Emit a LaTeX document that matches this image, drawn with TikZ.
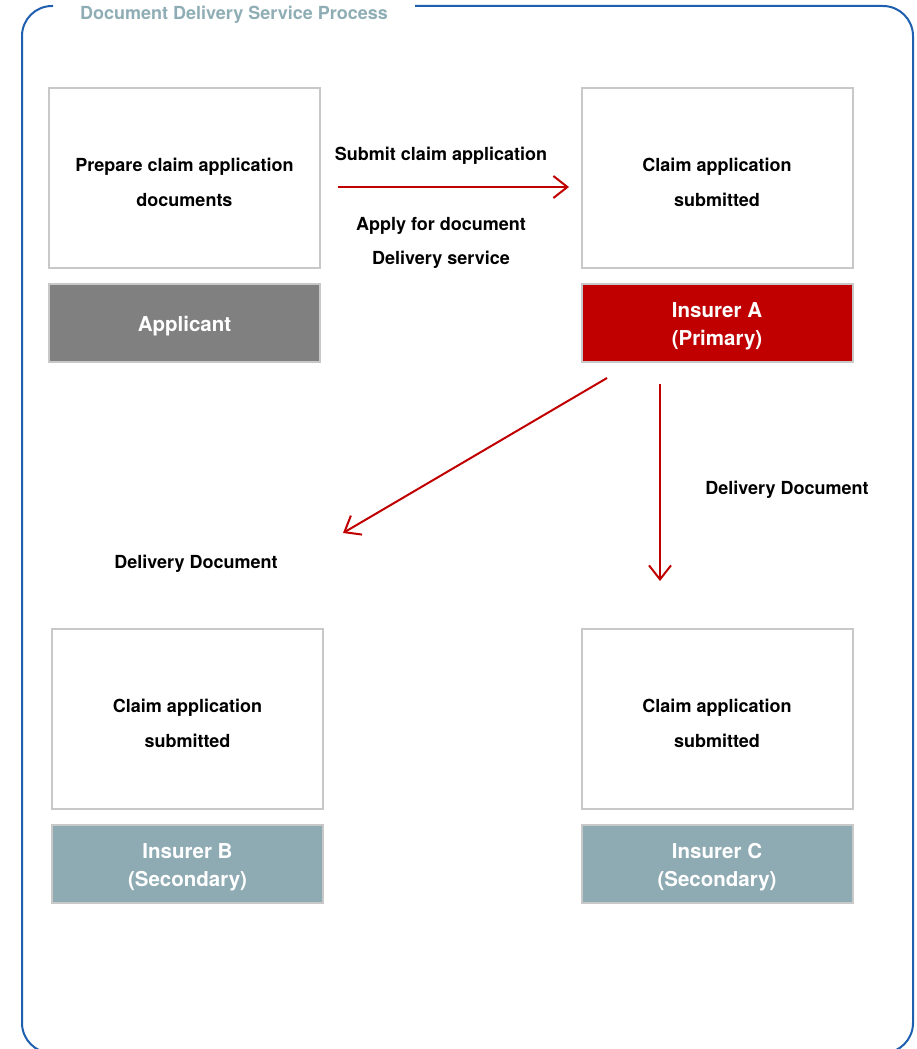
\documentclass[tikz,border=0pt]{standalone}
\usepackage{fontspec}
\setmainfont{TeX Gyre Heros}
\usetikzlibrary{arrows.meta}
\definecolor{frameblue}{HTML}{1F5FB0}
\definecolor{boxgray}{HTML}{C8C8C8}
\definecolor{appgray}{HTML}{808080}
\definecolor{insred}{HTML}{C00000}
\definecolor{secteal}{HTML}{8EABB3}
\definecolor{titleteal}{HTML}{8FADB5}
\tikzset{
  txtbox/.style={draw=boxgray, line width=2pt, fill=white, minimum width=271pt, minimum height=180pt, inner sep=0pt},
  boxtext/.style={inner sep=0pt, align=center, font=\fontsize{18}{35}\selectfont\bfseries},
  lblbox/.style={draw=boxgray, line width=2pt, minimum width=271pt, minimum height=78pt, inner sep=0pt},
  lbltxt/.style={inner sep=0pt, align=center, text=white, font=\fontsize{20.5}{28}\selectfont\bfseries},
  flowarrow/.style={draw=insred, line width=2pt, -{Straight Barb[length=14pt,width=22pt,line width=2pt]}},
  lbltext/.style={inner sep=0pt, align=center, font=\fontsize{18}{34}\selectfont\bfseries},
}
\begin{document}
\begin{tikzpicture}[x=1pt,y=-1pt]
\useasboundingbox (0,0) rectangle (916,1049);
% frame
\draw[frameblue, line width=2pt, rounded corners=30pt] (53,6) -- (22,6) -- (22,1053) -- (913,1053) -- (913,6) -- (415,6);
\node[inner sep=0pt, text=titleteal, font=\fontsize{18}{20}\selectfont\bfseries] (title) at (234,15) {Document Delivery Service Process};
% boxes
\node[txtbox] (appbox) at (184.5,178) {};
\node[boxtext] (apptxt) at ([yshift=-4pt]appbox.center) {Prepare claim application\\documents};
\node[lblbox, fill=appgray] (applbl) at (184.5,323) {};
\node[lbltxt] (appname) at ([yshift=-3pt]applbl.center) {Applicant};
\node[txtbox] (abox) at (717,178) {};
\node[boxtext] (atxt) at ([yshift=-4pt]abox.center) {Claim application\\submitted};
\node[lblbox, fill=insred] (albl) at (717,323) {};
\node[lbltxt] (aname) at ([yshift=-3pt]albl.center) {Insurer A\\(Primary)};
\node[txtbox] (bbox) at (187.5,719) {};
\node[boxtext] (btxt) at ([yshift=-4pt]bbox.center) {Claim application\\submitted};
\node[lblbox, fill=secteal] (blbl) at (187.5,864) {};
\node[lbltxt] (bname) at ([yshift=-3pt]blbl.center) {Insurer B\\(Secondary)};
\node[txtbox] (cbox) at (717,719) {};
\node[boxtext] (ctxt) at ([yshift=-4pt]cbox.center) {Claim application\\submitted};
\node[lblbox, fill=secteal] (clbl) at (717,864) {};
\node[lbltxt] (cname) at ([yshift=-3pt]clbl.center) {Insurer C\\(Secondary)};
% arrows
\coordinate (h1) at (338,187);
\coordinate (h2) at (569,187);
\draw[flowarrow] (h1) -- (h2);
\coordinate (d1) at (607,378);
\coordinate (d2) at (343,533);
\draw[flowarrow] (d1) -- (d2);
\coordinate (v1) at (660,384);
\coordinate (v2) at (660,581);
\draw[flowarrow] (v1) -- (v2);
% labels
\node[lbltext] (l1) at (441,156) {Submit claim application};
\node[lbltext] (l2) at (441,243) {Apply for document\\Delivery service};
\node[lbltext] (l3) at (787,490) {Delivery Document};
\node[lbltext] (l4) at (196,564) {Delivery Document};
\end{tikzpicture}
\end{document}
